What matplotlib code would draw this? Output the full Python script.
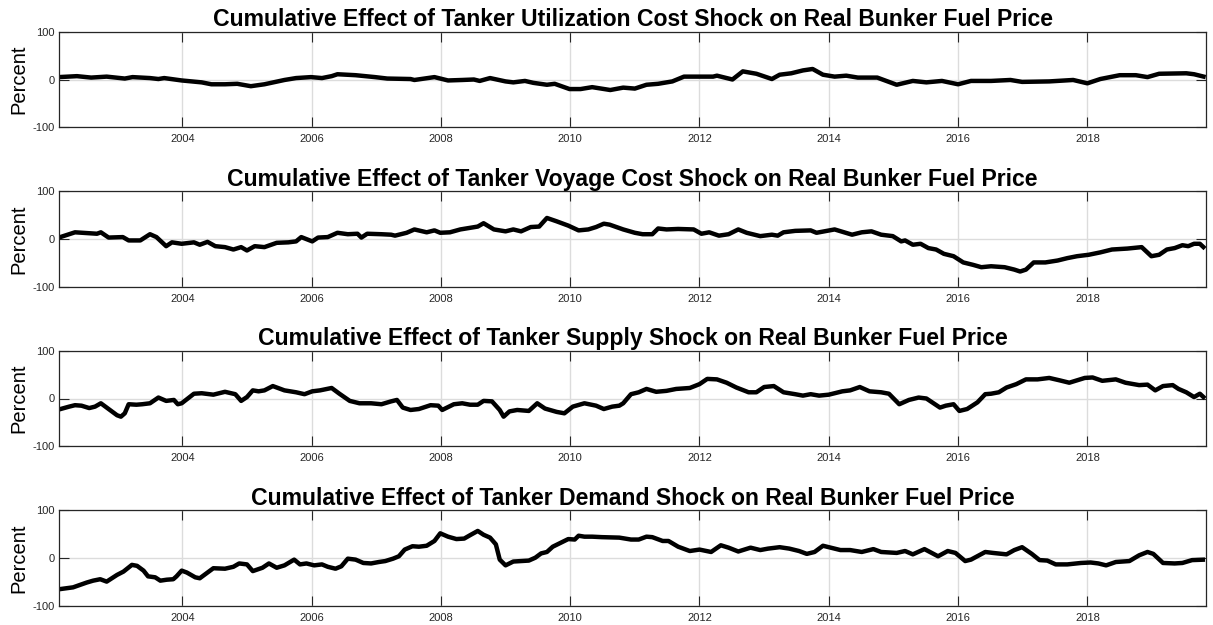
import numpy as np
import matplotlib
matplotlib.use("Agg")
import matplotlib.pyplot as plt

plt.rcParams["font.family"] = ["Liberation Sans", "DejaVu Sans"]
plt.rcParams["axes.unicode_minus"] = False

# Cumulative effects (percent)
years_util = [2002.09, 2002.37, 2002.59, 2002.83, 2003.11, 2003.23, 2003.50, 2003.63, 2003.72, 2003.99,
              2004.30, 2004.45, 2004.66, 2004.85, 2005.06, 2005.27, 2005.58, 2005.76, 2005.99, 2006.16,
              2006.31, 2006.40, 2006.68, 2006.98, 2007.17, 2007.53, 2007.59, 2007.90, 2008.11, 2008.33,
              2008.51, 2008.60, 2008.76, 2009.00, 2009.12, 2009.30, 2009.43, 2009.64, 2009.76, 2009.99,
              2010.16, 2010.34, 2010.62, 2010.82, 2011.00, 2011.18, 2011.36, 2011.58, 2011.76, 2012.00,
              2012.21, 2012.27, 2012.51, 2012.67, 2012.88, 2013.12, 2013.24, 2013.42, 2013.60, 2013.75,
              2013.91, 2014.09, 2014.27, 2014.45, 2014.75, 2015.05, 2015.30, 2015.51, 2015.75, 2016.00,
              2016.20, 2016.51, 2016.81, 2016.99, 2017.41, 2017.78, 2018.00, 2018.20, 2018.50, 2018.75,
              2018.93, 2019.11, 2019.53, 2019.65, 2019.83]
util = [5, 7, 4, 6, 2, 5, 3, 1, 3, -2,
        -6, -10, -10, -9, -14, -10, -1, 3, 5, 3,
        7, 11, 9, 5, 2, 1, -1, 5, -2, -1,
        0, -3, 3, -4, -6, -3, -7, -11, -9, -20,
        -20, -16, -22, -17, -19, -11, -9, -4, 6, 6,
        6, 8, 0, 17, 12, 1, 10, 13, 19, 22,
        10, 6, 8, 4, 4, -11, -3, -6, -3, -10,
        -3, -3, -1, -5, -4, -1, -8, 1, 9, 9,
        5, 12, 13, 11, 5]

years_voyage = [2002.09, 2002.34, 2002.68, 2002.74, 2002.86, 2003.08, 2003.17, 2003.35, 2003.50, 2003.60,
                2003.75, 2003.84, 2003.99, 2004.18, 2004.27, 2004.39, 2004.51, 2004.66, 2004.79, 2004.91,
                2005.00, 2005.12, 2005.27, 2005.46, 2005.64, 2005.76, 2005.84, 2006.01, 2006.10, 2006.25,
                2006.40, 2006.56, 2006.71, 2006.77, 2006.86, 2007.08, 2007.23, 2007.29, 2007.47, 2007.59,
                2007.78, 2007.90, 2007.99, 2008.14, 2008.30, 2008.39, 2008.57, 2008.66, 2008.82, 2009.00,
                2009.12, 2009.24, 2009.39, 2009.52, 2009.64, 2009.79, 2009.97, 2010.13, 2010.28, 2010.40,
                2010.52, 2010.61, 2010.82, 2011.00, 2011.12, 2011.27, 2011.36, 2011.49, 2011.67, 2011.91,
                2012.03, 2012.15, 2012.30, 2012.45, 2012.60, 2012.73, 2012.94, 2013.12, 2013.21, 2013.30,
                2013.48, 2013.72, 2013.81, 2014.09, 2014.36, 2014.51, 2014.66, 2014.81, 2014.99, 2015.12,
                2015.18, 2015.30, 2015.42, 2015.54, 2015.66, 2015.78, 2015.93, 2016.08, 2016.23, 2016.36,
                2016.51, 2016.72, 2016.87, 2016.96, 2017.05, 2017.17, 2017.35, 2017.54, 2017.69, 2017.84,
                2018.02, 2018.20, 2018.38, 2018.62, 2018.84, 2018.99, 2019.11, 2019.23, 2019.35, 2019.47,
                2019.56, 2019.65, 2019.74, 2019.82]
voyage = [3, 14, 11, 14, 3, 4, -3, -3, 10, 4,
          -15, -7, -10, -7, -12, -6, -15, -17, -22, -17,
          -24, -15, -17, -8, -7, -5, 4, -5, 3, 4,
          13, 10, 11, 3, 11, 10, 9, 7, 13, 20,
          14, 18, 13, 14, 20, 22, 26, 33, 20, 16,
          20, 16, 25, 26, 44, 37, 28, 18, 20, 25,
          32, 30, 20, 13, 10, 10, 22, 20, 21, 20,
          11, 14, 7, 10, 20, 13, 6, 9, 7, 14,
          17, 18, 13, 20, 9, 14, 16, 9, 6, -5,
          -3, -12, -10, -19, -22, -31, -36, -49, -54, -59,
          -57, -59, -64, -68, -64, -49, -49, -45, -40, -36,
          -33, -28, -22, -20, -17, -36, -33, -22, -19, -13,
          -15, -10, -10, -20]

years_supply = [2002.09, 2002.25, 2002.34, 2002.44, 2002.56, 2002.65, 2002.74, 2002.86, 2002.99, 2003.05,
                2003.11, 2003.17, 2003.29, 2003.38, 2003.50, 2003.63, 2003.75, 2003.87, 2003.93, 2003.99,
                2004.18, 2004.30, 2004.48, 2004.66, 2004.82, 2004.91, 2005.00, 2005.09, 2005.18, 2005.27,
                2005.40, 2005.58, 2005.76, 2005.89, 2006.01, 2006.13, 2006.31, 2006.43, 2006.59, 2006.74,
                2006.92, 2007.08, 2007.23, 2007.32, 2007.41, 2007.53, 2007.66, 2007.84, 2007.96, 2008.02,
                2008.20, 2008.33, 2008.45, 2008.57, 2008.66, 2008.79, 2008.91, 2008.97, 2009.06, 2009.18,
                2009.36, 2009.49, 2009.61, 2009.79, 2009.91, 2010.04, 2010.22, 2010.40, 2010.52, 2010.65,
                2010.76, 2010.82, 2010.94, 2011.06, 2011.18, 2011.33, 2011.49, 2011.64, 2011.85, 2012.00,
                2012.12, 2012.27, 2012.42, 2012.57, 2012.76, 2012.88, 2013.00, 2013.15, 2013.30, 2013.48,
                2013.60, 2013.72, 2013.85, 2014.00, 2014.21, 2014.33, 2014.48, 2014.63, 2014.81, 2014.93,
                2015.09, 2015.24, 2015.39, 2015.51, 2015.72, 2015.81, 2015.93, 2016.02, 2016.14, 2016.30,
                2016.42, 2016.51, 2016.63, 2016.75, 2016.90, 2017.05, 2017.23, 2017.41, 2017.57, 2017.72,
                2017.84, 2017.96, 2018.08, 2018.23, 2018.44, 2018.59, 2018.80, 2018.93, 2019.05, 2019.17,
                2019.32, 2019.41, 2019.53, 2019.65, 2019.74, 2019.82]
supply = [-23, -17, -14, -15, -20, -17, -10, -22, -35, -38,
          -31, -12, -13, -12, -10, 2, -5, -3, -12, -10,
          10, 11, 8, 14, 9, -5, 3, 17, 15, 17,
          26, 17, 13, 9, 15, 17, 22, 10, -5, -10,
          -10, -12, -6, -3, -19, -24, -22, -14, -15, -24,
          -12, -10, -13, -13, -5, -6, -24, -38, -27, -24,
          -26, -10, -21, -28, -31, -17, -10, -15, -22, -17,
          -15, -10, 9, 13, 20, 14, 16, 20, 22, 30,
          41, 40, 33, 23, 13, 13, 24, 26, 13, 9,
          6, 9, 6, 8, 15, 17, 24, 15, 13, 10,
          -12, -3, 2, 0, -19, -15, -12, -26, -22, -8,
          9, 10, 13, 23, 30, 40, 40, 43, 38, 33,
          38, 43, 44, 37, 40, 33, 28, 29, 17, 26,
          28, 20, 13, 3, 10, 0]

years_demand = [2002.09, 2002.31, 2002.52, 2002.62, 2002.73, 2002.83, 2002.99, 2003.09, 2003.22, 2003.30,
                2003.40, 2003.47, 2003.58, 2003.66, 2003.76, 2003.86, 2003.91, 2003.99, 2004.07, 2004.20,
                2004.27, 2004.48, 2004.66, 2004.79, 2004.88, 2005.00, 2005.09, 2005.24, 2005.34, 2005.46,
                2005.58, 2005.73, 2005.82, 2005.92, 2006.04, 2006.16, 2006.25, 2006.37, 2006.46, 2006.56,
                2006.68, 2006.80, 2006.92, 2007.04, 2007.14, 2007.26, 2007.35, 2007.44, 2007.56, 2007.66,
                2007.78, 2007.90, 2007.99, 2008.11, 2008.24, 2008.36, 2008.45, 2008.57, 2008.66, 2008.76,
                2008.85, 2008.91, 2009.00, 2009.12, 2009.24, 2009.36, 2009.46, 2009.55, 2009.64, 2009.73,
                2009.85, 2009.97, 2010.07, 2010.13, 2010.22, 2010.34, 2010.49, 2010.76, 2010.94, 2011.06,
                2011.18, 2011.27, 2011.43, 2011.52, 2011.67, 2011.85, 2012.00, 2012.18, 2012.33, 2012.45,
                2012.60, 2012.79, 2012.94, 2013.06, 2013.24, 2013.39, 2013.54, 2013.66, 2013.78, 2013.91,
                2014.03, 2014.18, 2014.33, 2014.51, 2014.69, 2014.81, 2015.05, 2015.18, 2015.30, 2015.48,
                2015.69, 2015.84, 2015.96, 2016.11, 2016.20, 2016.42, 2016.54, 2016.75, 2016.87, 2016.99,
                2017.14, 2017.26, 2017.38, 2017.51, 2017.69, 2017.90, 2018.05, 2018.17, 2018.29, 2018.44,
                2018.65, 2018.80, 2018.93, 2019.02, 2019.17, 2019.35, 2019.47, 2019.62, 2019.82]
demand = [-65, -61, -51, -47, -44, -49, -35, -28, -14, -16,
          -26, -38, -40, -47, -45, -44, -38, -26, -30, -40,
          -42, -21, -22, -18, -11, -13, -27, -20, -11, -20,
          -15, -3, -13, -11, -15, -13, -18, -22, -17, -1,
          -3, -10, -11, -8, -6, -1, 4, 18, 25, 24,
          26, 36, 52, 45, 40, 41, 48, 57, 49, 43,
          29, -3, -15, -7, -6, -5, 1, 10, 13, 24,
          32, 40, 39, 47, 45, 45, 44, 43, 39, 39,
          45, 44, 36, 36, 24, 15, 18, 13, 27, 22,
          14, 22, 17, 20, 23, 20, 15, 9, 13, 26,
          22, 17, 17, 13, 19, 13, 11, 15, 8, 19,
          4, 15, 11, -6, -3, 13, 11, 8, 17, 23,
          9, -4, -5, -13, -13, -10, -9, -11, -15, -8,
          -6, 6, 13, 9, -10, -11, -10, -4, -3]

titles = ["Cumulative Effect of Tanker Utilization Cost Shock on Real Bunker Fuel Price",
          "Cumulative Effect of Tanker Voyage Cost Shock on Real Bunker Fuel Price",
          "Cumulative Effect of Tanker Supply Shock on Real Bunker Fuel Price",
          "Cumulative Effect of Tanker Demand Shock on Real Bunker Fuel Price"]
series = [(years_util, util), (years_voyage, voyage), (years_supply, supply), (years_demand, demand)]

fig = plt.figure(figsize=(12.13, 6.25), dpi=100)
left, width, height = 0.0484, 0.9461, 0.153
bottoms = [0.7963, 0.5411, 0.2859, 0.0304]
axcol = "#262626"

for k in range(4):
    ax = fig.add_axes([left, bottoms[k], width, height])
    x, y = series[k]
    ax.plot(x, y, color="black", linewidth=3.2, solid_joinstyle="round", solid_capstyle="butt")
    ax.set_xlim(2002.088, 2019.84)
    ax.set_ylim(-100, 100)
    ax.set_xticks(np.arange(2004, 2019, 2))
    ax.set_xticklabels([str(v) for v in range(2004, 2019, 2)])
    ax.set_yticks([-100, 0, 100])
    ax.set_axisbelow(True)
    ax.grid(True, color="#dcdcdc", linewidth=1.0)
    ax.tick_params(direction="in", length=7, width=0.8, top=True, right=True,
                   color=axcol, labelcolor=axcol, labelsize=8)
    ax.tick_params(axis="x", pad=5)
    ax.tick_params(axis="y", pad=3)
    for s in ax.spines.values():
        s.set_linewidth(0.9)
        s.set_color(axcol)
    ax.set_ylabel("Percent", fontsize=14.5, labelpad=3)
    ax.set_title(titles[k], fontsize=16.6, fontweight="bold", pad=4)

fig.savefig("out.png", dpi=100)
